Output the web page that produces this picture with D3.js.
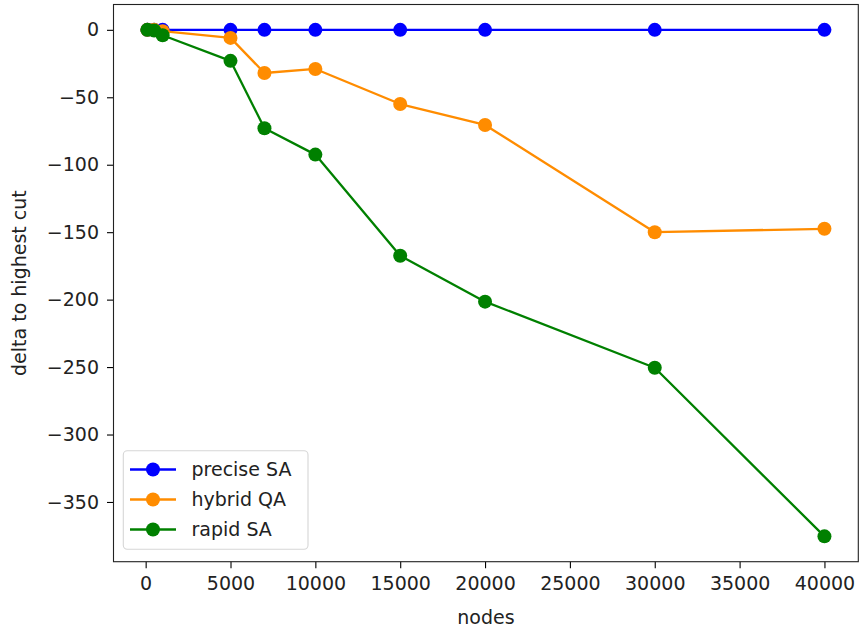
<!DOCTYPE html>
<html>
<head>
<meta charset="utf-8">
<script src="https://cdn.jsdelivr.net/npm/d3@7"></script>
<style>
  html, body { margin: 0; padding: 0; background: #fff; }
  svg { display: block; font-family: "DejaVu Sans", sans-serif; }
</style>
</head>
<body>
<svg id="chart" width="861" height="632"></svg>
<script>
// ---- data ----
const nodes = [100, 500, 1000, 5000, 7000, 10000, 15000, 20000, 30000, 40000];
const preciseSA = [0, 0, 0, 0, 0, 0, 0, 0, 0, 0];
const hybridQA = [0, 0, -1, -6, -32, -29, -55, -70.5, -150, -147.5];
const rapidSA = [0, -0.5, -4, -23, -73, -92.5, -167.5, -201.5, -250.5, -375.5];
const seriesNames = ["precise SA", "hybrid QA", "rapid SA"];
const seriesColors = ["#0000ff", "#ff8c00", "#008000"];
const xTicks = [0, 5000, 10000, 15000, 20000, 25000, 30000, 35000, 40000];
const yTicks = [0, -50, -100, -150, -200, -250, -300, -350];
const xLabel = "nodes";
const yLabel = "delta to highest cut";

const allSeries = [preciseSA, hybridQA, rapidSA];

const svg = d3.select("#chart");
const L = 113.5, R = 858.3, T = 4.5, B = 561.7;
const fontSize = 19;

function padded(lo, hi) { const m = (hi - lo) * 0.05; return [lo - m, hi + m]; }
const xExt = padded(d3.min(nodes), d3.max(nodes));
const allVals = allSeries.flat();
const yExt = padded(d3.min(allVals), d3.max(allVals));

const x = d3.scaleLinear().domain(xExt).range([L, R]);
const y = d3.scaleLinear().domain(yExt).range([B, T]);

// axes
const xAxis = d3.axisBottom(x).tickValues(xTicks).tickFormat(d3.format("d")).tickSizeOuter(0).tickSize(6.5).tickPadding(8);
const yAxis = d3.axisLeft(y).tickValues(yTicks).tickFormat(d => d < 0 ? "\u2212" + Math.abs(d) : d).tickSizeOuter(0).tickSize(6.5).tickPadding(8);

const gx = svg.append("g").attr("transform", `translate(0,${B})`).call(xAxis);
const gy = svg.append("g").attr("transform", `translate(${L},0)`).call(yAxis);
[gx, gy].forEach(g => {
  g.select(".domain").remove();
  g.selectAll(".tick line").attr("stroke", "#000").attr("stroke-width", 1.1);
  g.selectAll(".tick text").attr("fill", "#222").style("font-size", fontSize + "px").style("font-family", "DejaVu Sans");
});

// frame
svg.append("rect").attr("x", L).attr("y", T).attr("width", R - L).attr("height", B - T)
  .attr("fill", "none").attr("stroke", "#222").attr("stroke-width", 1.1);

// lines
const line = d3.line().x((d, i) => x(nodes[i])).y(d => y(d));
allSeries.forEach((s, k) => {
  const g = svg.append("g");
  g.append("path").datum(s).attr("d", line).attr("fill", "none")
    .attr("stroke", seriesColors[k]).attr("stroke-width", 2.3).attr("stroke-linejoin", "round");
  g.selectAll("circle").data(s).enter().append("circle")
    .attr("cx", (d, i) => x(nodes[i])).attr("cy", d => y(d)).attr("r", 7)
    .attr("fill", seriesColors[k]);
});

// axis labels
svg.append("text").attr("x", (L + R) / 2).attr("y", 624).attr("text-anchor", "middle")
  .style("font-size", fontSize + "px").attr("fill", "#222").text(xLabel);
svg.append("text").attr("transform", `translate(26,${(T + B) / 2}) rotate(-90)`).attr("text-anchor", "middle")
  .style("font-size", fontSize + "px").attr("fill", "#222").text(yLabel);

// legend
const lg = svg.append("g");
lg.append("rect").attr("x", 123.3).attr("y", 450.7).attr("width", 184.7).attr("height", 98.5)
  .attr("rx", 4).attr("fill", "#fff").attr("fill-opacity", 0.8).attr("stroke", "#d6d6d6").attr("stroke-width", 1.1);
seriesNames.forEach((name, k) => {
  const cy = 469.5 + k * 30;
  lg.append("line").attr("x1", 130).attr("x2", 176).attr("y1", cy).attr("y2", cy)
    .attr("stroke", seriesColors[k]).attr("stroke-width", 2.3);
  lg.append("circle").attr("cx", 153).attr("cy", cy).attr("r", 7).attr("fill", seriesColors[k]);
  lg.append("text").attr("x", 191.5).attr("y", cy).attr("dy", "0.35em")
    .style("font-size", fontSize + "px").attr("fill", "#222").text(name);
});
</script>
</body>
</html>
